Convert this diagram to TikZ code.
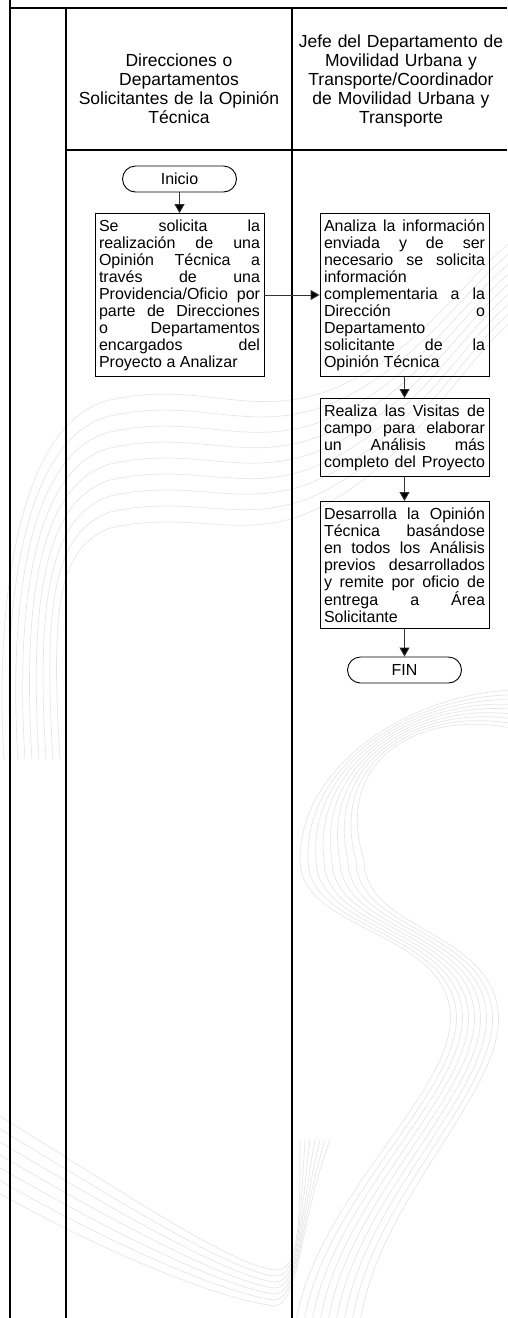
\documentclass[tikz,border=0pt]{standalone}
\usepackage{fontspec}
\setmainfont{Liberation Sans}
\usetikzlibrary{arrows.meta, positioning}
\definecolor{marcacol}{RGB}{230,230,230}
\definecolor{flechacol}{RGB}{50,50,50}
\newcommand{\jline}[1]{\makebox[161pt][s]{#1}}

\begin{document}
\begin{tikzpicture}[x=1pt, y=-1pt, font=\fontsize{16}{17}\selectfont,
    paso/.style={draw, line width=0.9pt, text width=161pt, align=justify,
                 inner xsep=4pt, inner ysep=6pt},
    terminal/.style={draw, line width=0.9pt, rounded corners=13pt,
                     minimum width=114pt, minimum height=26pt, inner sep=0pt},
    flecha/.style={line width=0.9pt, draw=flechacol,
                   -{Triangle[length=9pt, width=10pt, fill=black]}},
    carril/.style={line width=1.2pt},
    encabezado/.style={align=center, text width=240pt,
                       font=\fontsize{17.5}{17}\selectfont},
    marca/.style={draw=marcacol, line width=0.7pt}]
  \useasboundingbox (0,0) rectangle (507,1318);

  \foreach \k in {0,...,8}
    \draw[marca] (4+7*\k,760) .. controls (-6+7*\k,600) and (20+5*\k,420+16*\k) .. (110,400+16*\k)
      .. controls (200,380+16*\k) and (250,420+16*\k) .. (330,390+14*\k)
      .. controls (420,355+12*\k) and (470,270+10*\k) .. (520,235+10*\k);
  \foreach \k in {0,...,8}
    \draw[marca] (520,690+5*\k) .. controls (420,690+2*\k) and (300+4*\k,760) .. (300+8*\k,860)
      .. controls (300+8*\k,930) and (440+6*\k,930) .. (450+6*\k,1010)
      .. controls (460+6*\k,1090) and (310+8*\k,1200) .. (295+8*\k,1330);
  \foreach \k in {0,...,6}
    \draw[marca] (-10,1110+13*\k) .. controls (120,1190+12*\k) and (230,1265+6*\k) .. (275,1270+6*\k)
      .. controls (300,1272+5*\k) and (300,1220) .. (300+5*\k,1140);

  \draw[carril] (10,0) -- (10,1318);
  \draw[carril] (10,8) -- (507,8);
  \draw[carril] (66,8) -- (66,1318);
  \draw[carril] (292,8) -- (292,1318);
  \draw[carril] (66,150) -- (507,150);

  \node[encabezado] (hsol) at (179,88.5)
    {Direcciones o\\[2pt]Departamentos\\[2pt]Solicitantes de la Opinión\\[2pt]Técnica};
  \node[encabezado] (hjefe) at (401,80.5)
    {Jefe del Departamento de\\[2pt]Movilidad Urbana y\\[2pt]Transporte/Coordinador\\[2pt]de Movilidad Urbana y\\[2pt]Transporte};

  \node[terminal] (inicio) at (179.5,179) {Inicio};
  \node[paso] (solicita) at (179.5,295)
    {\jline{Se solicita la}\\\jline{realización de una}\\\jline{Opinión Técnica a}\\
     \jline{través de una}\\\jline{Providencia/Oficio por}\\\jline{parte de Direcciones}\\
     \jline{o Departamentos}\\\jline{encargados del}\\Proyecto a Analizar};
  \node[paso] (analiza) at (404.5,295)
    {\jline{Analiza la información}\\\jline{enviada y de ser}\\\jline{necesario se solicita}\\
     información\\\jline{complementaria a la}\\\jline{Dirección o}\\
     Departamento\\\jline{solicitante de la}\\Opinión Técnica};
  \node[paso, anchor=north] (visitas) at (404.5,398)
    {\jline{Realiza las Visitas de}\\\jline{campo para elaborar}\\\jline{un Análisis más}\\
     \jline{completo del Proyecto}};
  \node[paso, anchor=north] (desarrolla) at (404.5,501)
    {\jline{Desarrolla la Opinión}\\\jline{Técnica basándose}\\\jline{en todos los Análisis}\\
     \jline{previos desarrollados}\\\jline{y remite por oficio de}\\\jline{entrega a Área}\\
     Solicitante};
  \node[terminal] (fin) at (404.5,670) {FIN};

  \draw[flecha] (inicio) -- (solicita);
  \draw[flecha] (solicita) -- (analiza);
  \draw[flecha] (analiza) -- (visitas);
  \draw[flecha] (visitas) -- (desarrolla);
  \draw[flecha] (desarrolla) -- (fin);
\end{tikzpicture}
\end{document}
